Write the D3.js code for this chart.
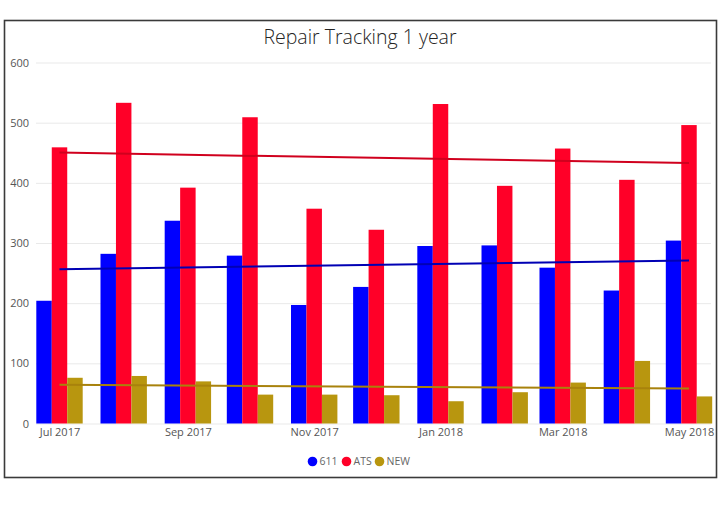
<!DOCTYPE html>
<html>
<head>
<meta charset="utf-8">
<script src="https://cdn.jsdelivr.net/npm/d3@7"></script>
<style>
  body { margin: 0; background: #fff; }
  svg { display: block; font-family: "Open Sans", "Segoe UI", sans-serif; }
</style>
</head>
<body>
<svg width="724" height="505"></svg>
<script>
// data
const months = ['2017-07', '2017-08', '2017-09', '2017-10', '2017-11', '2017-12',
                '2018-01', '2018-02', '2018-03', '2018-04', '2018-05'];
const series = ['611', 'ATS', 'NEW'];
const values611 = [204, 282, 337, 279, 197, 227, 295, 296, 259, 221, 304];
const valuesATS = [459, 533, 392, 509, 357, 322, 531, 395, 457, 405, 496];
const valuesNEW = [76, 79, 70, 48, 48, 47, 37, 52, 68, 104, 45];
const yTicks = [0, 100, 200, 300, 400, 500, 600];
const xTickLabels = ['Jul 2017', 'Sep 2017', 'Nov 2017', 'Jan 2018', 'Mar 2018', 'May 2018'];

const barColors = ['#0000ff', '#ff0028', '#b8960f'];
const trendColors = ['#0000b4', '#d0001e', '#a8820c'];

const parse = d3.timeParse('%Y-%m');
const dates = months.map(parse);
const columns = [values611, valuesATS, valuesNEW];

const svg = d3.select('svg');

// frame
svg.append('rect')
  .attr('x', 4.5).attr('y', 20.5)
  .attr('width', 712).attr('height', 457)
  .attr('fill', 'none')
  .attr('stroke', '#3a3a3a')
  .attr('stroke-width', 1.6);

svg.append('text')
  .attr('x', 360).attr('y', 44)
  .attr('text-anchor', 'middle')
  .attr('font-size', 19.5)
  .attr('font-weight', 300)
  .attr('fill', '#252423')
  .text('Repair Tracking 1 year');

const x = d3.scaleTime()
  .domain([dates[0], dates[dates.length - 1]])
  .range([59.5, 689]);

const y = d3.scaleLinear()
  .domain([0, 600])
  .range([423.5, 62.5]);

const step = (x(dates[dates.length - 1]) - x(dates[0])) / (dates.length - 1);
const groupW = step * 0.737;

const xb = d3.scaleBand()
  .domain(series)
  .range([-groupW / 2, groupW / 2]);

// gridlines
svg.append('g')
  .attr('transform', 'translate(36,0)')
  .call(d3.axisLeft(y).tickValues(yTicks).tickSize(-675).tickFormat(''))
  .call(g => g.select('.domain').remove())
  .call(g => g.selectAll('line').attr('stroke', '#e9e9e9'));

// y labels
svg.append('g')
  .attr('transform', 'translate(29,0)')
  .call(d3.axisLeft(y).tickValues(yTicks).tickSize(0).tickPadding(0))
  .call(g => g.select('.domain').remove())
  .call(g => g.selectAll('text')
    .attr('font-size', 11)
    .attr('fill', '#555')
    .attr('font-family', '"Open Sans", sans-serif'));

// bars
const groups = svg.append('g').selectAll('g')
  .data(dates)
  .join('g')
  .attr('transform', d => `translate(${x(d)},0)`);

groups.selectAll('rect')
  .data((d, i) => series.map((s, j) => ({ s: s, j: j, v: columns[j][i] })))
  .join('rect')
  .attr('x', d => xb(d.s))
  .attr('width', xb.bandwidth())
  .attr('y', d => y(d.v))
  .attr('height', d => y(0) - y(d.v))
  .attr('fill', d => barColors[d.j]);

// linear trend lines
columns.forEach((vals, j) => {
  const xs = dates.map(d => +d);
  const mx = d3.mean(xs), my = d3.mean(vals);
  const sxy = d3.sum(xs, (v, i) => (v - mx) * (vals[i] - my));
  const sxx = d3.sum(xs, v => (v - mx) * (v - mx));
  const slope = sxy / sxx;
  const fit = t => my + slope * (+t - mx);
  const ends = [dates[0], dates[dates.length - 1]];
  svg.append('path')
    .datum(ends)
    .attr('d', d3.line().x(d => x(d)).y(d => y(fit(d))))
    .attr('fill', 'none')
    .attr('stroke', trendColors[j])
    .attr('stroke-width', 2);
});

// x axis labels
const xTicks = d3.timeMonth.every(2).range(dates[0], d3.timeMonth.offset(dates[dates.length - 1], 1));
svg.append('g')
  .attr('transform', 'translate(0,428)')
  .call(d3.axisBottom(x).tickValues(xTicks).tickSize(0).tickPadding(0)
    .tickFormat((d, i) => xTickLabels[i]))
  .call(g => g.select('.domain').remove())
  .call(g => g.selectAll('text')
    .attr('font-size', 11)
    .attr('fill', '#555')
    .attr('font-family', '"Open Sans", sans-serif'));

// legend
const legendX = [312.5, 346.5, 379.5];
const legend = svg.append('g').selectAll('g')
  .data(series)
  .join('g')
  .attr('transform', (d, i) => `translate(${legendX[i]},461.5)`);

legend.append('circle')
  .attr('r', 4.8)
  .attr('fill', (d, i) => barColors[i]);

legend.append('text')
  .attr('x', 7)
  .attr('dy', '0.35em')
  .attr('font-size', 10.5)
  .attr('fill', '#666')
  .text(d => d);
</script>
</body>
</html>
